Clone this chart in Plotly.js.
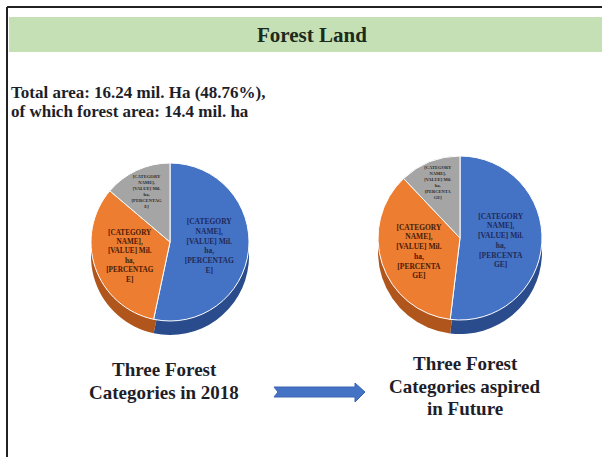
<!DOCTYPE html>
<html>
<head>
<meta charset="utf-8">
<script src="https://cdn.plot.ly/plotly-3.0.1.min.js"></script>
<style>html,body{margin:0;padding:0;background:#fff;}#chart{width:602px;height:457px;}</style>
</head>
<body>
<div id="chart"></div>
<script>
// Data (mil. ha)
const categories = ["Category A", "Category B", "Category C"];
const values2018 = [8.66, 5.34, 2.24];
const valuesFuture = [8.43, 5.85, 1.96];
const labels2018 = [
  "<b>[CATEGORY<br>NAME],<br>[VALUE] Mil.<br>ha,<br>[PERCENTAG<br>E]</b>",
  "<b>[CATEGORY<br>NAME],<br>[VALUE] Mil.<br>ha,<br>[PERCENTAG<br>E]</b>",
  "<b>[CATEGORY<br>NAME],<br>[VALUE] Mil.<br>ha,<br>[PERCENTAG<br>E]</b>"
];
const labelsFuture = [
  "<b>[CATEGORY<br>NAME],<br>[VALUE] Mil.<br>ha,<br>[PERCENTA<br>GE]</b>",
  "<b>[CATEGORY<br>NAME],<br>[VALUE] Mil.<br>ha,<br>[PERCENTA<br>GE]</b>",
  "<b>[CATEGORY<br>NAME],<br>[VALUE] Mil.<br>ha,<br>[PERCENTA<br>GE]</b>"
];
const topColors = ["#4472C4", "#ED7D31", "#A5A5A5"];
const sideColors = ["#2A4C8C", "#B0561C", "#777777"];
const textColors = ["#1F2A5C", "#4A1A05", "#2A2A2A"];

const W = 602, H = 457;
function dom(cx, cy, d) {
  return {x: [(cx - d/2)/W, (cx + d/2)/W], y: [1 - (cy + d/2)/H, 1 - (cy - d/2)/H]};
}
function pieTrace(vals, colors, d, text, showText) {
  return {
    type: "pie", values: vals, labels: categories, sort: false,
    direction: "clockwise", rotation: 0, domain: d,
    marker: {colors: colors, line: {color: "#ffffff", width: showText ? 1 : 0}},
    text: text, textinfo: showText ? "text" : "none",
    textposition: showText ? "inside" : "none",
    insidetextorientation: "horizontal",
    textfont: {family: "Liberation Serif", size: 7.5, color: textColors},
    automargin: false,
    hoverinfo: "skip", showlegend: false
  };
}
const data = [
  pieTrace(values2018, sideColors, dom(170, 256, 158), null, false),
  pieTrace(values2018, topColors, dom(170, 242, 158), labels2018, true),
  pieTrace(valuesFuture, sideColors, dom(460, 252, 164), null, false),
  pieTrace(valuesFuture, topColors, dom(460, 238, 164), labelsFuture, true)
];

const serif = "Liberation Serif, Times New Roman, serif";
function txt(s, x, y, size, anchor) {
  return {text: "<b>" + s + "</b>", xref: "paper", yref: "paper", x: x/W, y: 1 - y/H,
          xanchor: anchor || "center", yanchor: "middle", showarrow: false,
          font: {family: serif, size: size, color: "#1E1E28"}};
}
const layout = {
  width: W, height: H,
  margin: {l: 0, r: 0, t: 0, b: 0},
  paper_bgcolor: "#ffffff",
  showlegend: false,
  shapes: [
    {type: "rect", xref: "paper", yref: "paper", x0: 9/W, x1: 1, y0: 1 - 52/H, y1: 1 - 17/H,
     fillcolor: "#C5E0B4", line: {width: 0}, layer: "below"},
    {type: "line", xref: "paper", yref: "paper", x0: 7/W, x1: 1, y0: 1 - 7/H, y1: 1 - 7/H,
     line: {color: "#222222", width: 2}},
    {type: "line", xref: "paper", yref: "paper", x0: 7/W, x1: 7/W, y0: 0, y1: 1 - 7/H,
     line: {color: "#222222", width: 2}},
    {type: "path", xref: "paper", yref: "paper",
     path: "M " + (274/W) + " " + (1-387/H) + " L " + (355/W) + " " + (1-387/H) +
           " L " + (355/W) + " " + (1-383/H) + " L " + (365/W) + " " + (1-392/H) +
           " L " + (355/W) + " " + (1-402/H) + " L " + (355/W) + " " + (1-397/H) +
           " L " + (274/W) + " " + (1-397/H) + " L " + (278/W) + " " + (1-392/H) + " Z",
     fillcolor: "#4472C4", line: {color: "#3A64B0", width: 1}}
  ],
  annotations: [
    {text: "<b>Forest Land</b>", xref: "paper", yref: "paper", x: 312/W, y: 1 - 35/H,
     xanchor: "center", yanchor: "middle", showarrow: false,
     font: {family: serif, size: 21, color: "#1C2B1C"}},
    txt("Total area: 16.24 mil. Ha (48.76%),", 9, 92, 17, "left"),
    txt("of which forest area: 14.4 mil. ha", 9, 111, 17, "left"),
    txt("Three Forest", 164, 369, 19),
    txt("Categories in 2018", 164, 392, 19),
    txt("Three Forest", 465, 363, 19),
    txt("Categories aspired", 465, 386, 19),
    txt("in Future", 465, 408, 19)
  ]
};
Plotly.newPlot("chart", data, layout, {displayModeBar: false, staticPlot: true});
</script>
</body>
</html>
